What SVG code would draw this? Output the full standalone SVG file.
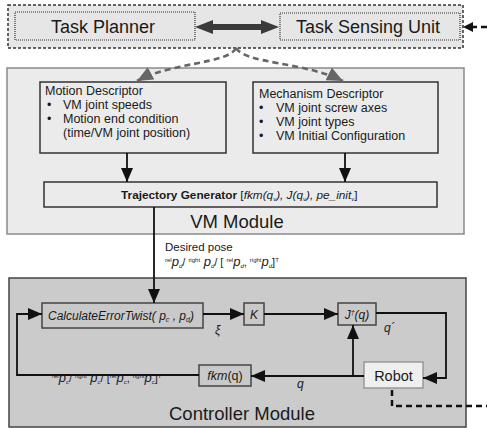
<svg xmlns="http://www.w3.org/2000/svg" width="487" height="428" viewBox="0 0 487 428">
<style>
text{font-family:"Liberation Sans",Arial,sans-serif;fill:#1a1a1a}
.big{font-size:18.5px}
.mid{font-size:12.5px}
.it{font-style:italic}
.box{fill:#ebebeb;stroke:#333;stroke-width:1.5}
.cbox{fill:#c9c9c9;stroke:#444;stroke-width:1.5}
.ln{fill:none;stroke:#111;stroke-width:1.8}
.gd{fill:none;stroke:#666;stroke-width:2.6;stroke-dasharray:6,4}
.kd{fill:none;stroke:#111;stroke-width:2.5;stroke-dasharray:6,4}
</style>
<defs>
<marker id="ah" markerUnits="userSpaceOnUse" markerWidth="14" markerHeight="12" refX="14" refY="6" orient="auto"><path d="M0,0 L14,6 L0,12 z" fill="#111"/></marker>
<marker id="gh" markerUnits="userSpaceOnUse" markerWidth="16" markerHeight="14" refX="16" refY="7" orient="auto"><path d="M0,0 L16,7 L0,14 z" fill="#666"/></marker>
</defs>

<g id="task-layer">
<rect x="8" y="5" width="455" height="43" fill="#e6e6e6" stroke="#333" stroke-width="1.5" stroke-dasharray="3,2"/>
</g>
<g id="task-planner">
<rect x="15" y="12" width="180" height="28" fill="#e6e6e6" stroke="#333" stroke-width="1.2" stroke-dasharray="1,1"/>
<text class="big" x="103" y="33" text-anchor="middle" style="font-size:18px">Task Planner</text>
</g>
<g id="task-sensing-unit">
<rect x="280" y="13" width="180" height="27" fill="#e6e6e6" stroke="#333" stroke-width="1.2" stroke-dasharray="1,1"/>
<text class="big" x="368" y="33" text-anchor="middle" style="font-size:18px">Task Sensing Unit</text>
</g>

<g id="vm-module">
<rect x="7" y="68" width="457" height="166" fill="#ebebeb" stroke="#8a8a8a" stroke-width="1.5"/>
<text class="big" x="237" y="228" text-anchor="middle">VM Module</text>
</g>
<g id="motion-descriptor">
<rect class="box" x="40" y="82" width="186" height="71"/>
<text class="mid" x="45" y="95">Motion Descriptor</text>
<text class="mid" x="47" y="109">•</text><text class="mid" x="63" y="109">VM joint speeds</text>
<text class="mid" x="47" y="123">•</text><text class="mid" x="63" y="123">Motion end condition</text>
<text class="mid" x="63" y="137">(time/VM joint position)</text>
</g>
<g id="mechanism-descriptor">
<rect class="box" x="253" y="82" width="185" height="71"/>
<text class="mid" x="259" y="98">Mechanism Descriptor</text>
<text class="mid" x="259" y="112">•</text><text class="mid" x="276" y="112">VM joint screw axes</text>
<text class="mid" x="259" y="126">•</text><text class="mid" x="276" y="126">VM joint types</text>
<text class="mid" x="259" y="140">•</text><text class="mid" x="276" y="140">VM Initial Configuration</text>
</g>
<g id="trajectory-generator">
<rect class="box" x="44" y="182" width="393" height="25"/>
<text x="121" y="199" style="font-size:11.8px"><tspan font-weight="bold">Trajectory Generator</tspan> [<tspan class="it">fkm(q</tspan><tspan class="it" font-size="6" dy="2">v</tspan><tspan class="it" dy="-2">), J(q</tspan><tspan class="it" font-size="6" dy="2">v</tspan><tspan class="it" dy="-2">), pe_init</tspan><tspan class="it" font-size="6" dy="2">v</tspan><tspan dy="-2">]</tspan></text>
</g>

<g id="controller-module">
<rect x="9" y="278" width="457" height="149" fill="#cbcbcb" stroke="#444" stroke-width="1.5"/>
<text class="big" x="242" y="420" text-anchor="middle">Controller Module</text>
</g>
<g id="calculate-error-twist">
<rect class="cbox" x="42" y="303" width="161" height="25"/>
<text class="it" x="48" y="320" style="font-size:12px">CalculateErrorTwist( p<tspan font-size="7" dy="2">c</tspan><tspan dy="-2"> , p</tspan><tspan font-size="7" dy="2">d</tspan><tspan dy="-2">)</tspan></text>
</g>
<g id="k">
<rect class="cbox" x="244" y="303" width="20" height="22"/>
<text class="it" x="254" y="319" text-anchor="middle" style="font-size:12px">K</text>
</g>
<g id="jacobian">
<rect class="cbox" x="338" y="303" width="38" height="22"/>
<text class="it" x="357" y="319" text-anchor="middle" style="font-size:12px">J<tspan font-size="7" dy="-4">†</tspan><tspan dy="4">(q)</tspan></text>
</g>
<g id="fkm">
<rect class="cbox" x="199" y="365" width="52" height="21"/>
<text x="225" y="380" text-anchor="middle" style="font-size:12.5px"><tspan class="it">fkm</tspan>(q)</text>
</g>
<g id="robot">
<rect x="364" y="362" width="59" height="26" fill="#efefef" stroke="#888" stroke-width="1.2"/>
<text x="393.5" y="381" text-anchor="middle" style="font-size:14.5px">Robot</text>
</g>

<g id="connectors">
<polygon points="195,27 213,20 213,24 261,24 261,20 279,27 261,34 261,30 213,30 213,34" fill="#3a3a3a"/>
<line x1="487" y1="27" x2="472" y2="27" class="kd" stroke-dasharray="4,3"/>
<polygon points="463,27 473,22 473,32" fill="#111"/>
<path class="gd" d="M236,48 C228,64 172,62 137,81" marker-end="url(#gh)"/>
<path class="gd" d="M236,48 C246,64 305,62 343,81" marker-end="url(#gh)"/>
<line class="ln" x1="127" y1="153" x2="127" y2="182" marker-end="url(#ah)"/>
<line class="ln" x1="345" y1="153" x2="345" y2="182" marker-end="url(#ah)"/>
<line class="ln" x1="154" y1="207" x2="154" y2="303" marker-end="url(#ah)"/>
<path class="ln" d="M199,375 H17 V314 H42" marker-end="url(#ah)"/>
<line class="ln" x1="203" y1="314" x2="244" y2="314" marker-end="url(#ah)"/>
<line class="ln" x1="264" y1="314" x2="338" y2="314" marker-end="url(#ah)"/>
<path class="ln" d="M376,313 H446 V378 H423" marker-end="url(#ah)"/>
<line class="ln" x1="364" y1="376" x2="251" y2="376" marker-end="url(#ah)"/>
<line class="ln" x1="353" y1="376" x2="353" y2="325" marker-end="url(#ah)"/>
<path class="kd" d="M392,390 V406 H487"/>
<text x="165" y="251" style="font-size:11.5px">Desired pose</text>
<text x="165" y="266" style="font-size:11px"><tspan font-size="6" dy="-4">rel</tspan><tspan class="it" font-size="13" dy="4">p</tspan><tspan class="it" font-size="6" dy="2">d</tspan><tspan dy="-2">/ </tspan><tspan font-size="6" dy="-4">right</tspan><tspan class="it" font-size="13" dy="4"> p</tspan><tspan class="it" font-size="6" dy="2">d</tspan><tspan dy="-2">/ [ </tspan><tspan font-size="6" dy="-4">rel</tspan><tspan class="it" font-size="13" dy="4">p</tspan><tspan class="it" font-size="6" dy="2">d</tspan><tspan dy="-2">, </tspan><tspan font-size="6" dy="-4">right</tspan><tspan class="it" font-size="13" dy="4">p</tspan><tspan class="it" font-size="6" dy="2">d</tspan><tspan dy="-2">]</tspan><tspan font-size="6" dy="-4">T</tspan></text>
<text x="52" y="382" style="font-size:11px"><tspan font-size="6" dy="-4">rel</tspan><tspan class="it" font-size="13" dy="4">p</tspan><tspan class="it" font-size="6" dy="2">c</tspan><tspan dy="-2">/ </tspan><tspan font-size="6" dy="-4">right</tspan><tspan class="it" font-size="13" dy="4"> p</tspan><tspan class="it" font-size="6" dy="2">c</tspan><tspan dy="-2">/ [</tspan><tspan font-size="6" dy="-4">rel</tspan><tspan class="it" font-size="13" dy="4">p</tspan><tspan class="it" font-size="6" dy="2">c</tspan><tspan dy="-2">, </tspan><tspan font-size="6" dy="-4">right</tspan><tspan class="it" font-size="13" dy="4">p</tspan><tspan class="it" font-size="6" dy="2">c</tspan><tspan dy="-2">]</tspan><tspan font-size="6" dy="-4">T</tspan></text>
<text class="it" x="215" y="334" style="font-size:12px">ξ</text>
<text class="it" x="384" y="332" style="font-size:12px">q´</text>
<text class="it" x="297" y="388" style="font-size:12px">q</text>
</g>
</svg>
